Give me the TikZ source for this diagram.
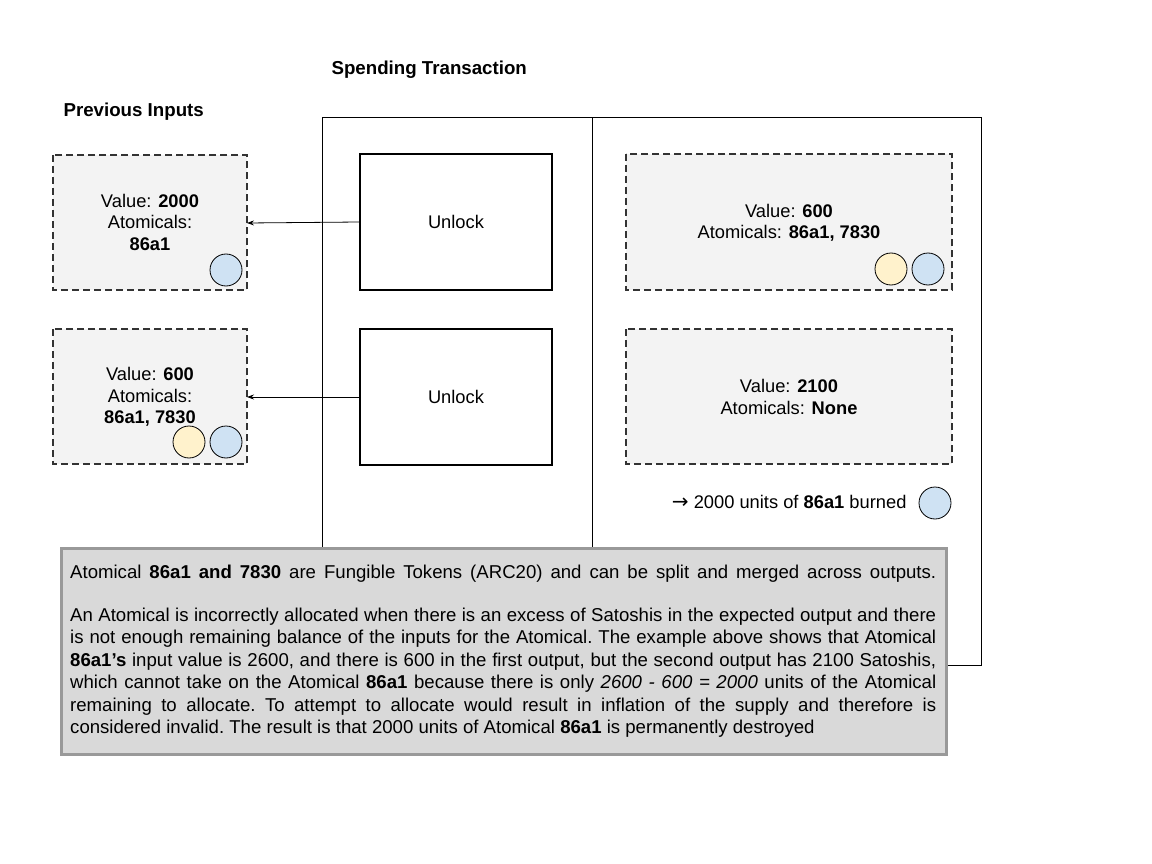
\documentclass[tikz,border=0pt]{standalone}
\usepackage{fontspec}
\setmainfont{Liberation Sans}
\newfontfamily\arrowfont{DejaVu Sans}
\usetikzlibrary{arrows.meta}
\definecolor{boxfill}{HTML}{F3F3F3}
\definecolor{notefill}{HTML}{D9D9D9}
\definecolor{noteline}{HTML}{999999}
\definecolor{tokyellow}{HTML}{FFF2CC}
\definecolor{tokblue}{HTML}{CFE2F3}
\tikzset{
  dbox/.style={draw=black!80, fill=boxfill, dash pattern=on 7pt off 4pt, line width=1.6pt},
  ubox/.style={draw=black, line width=1.3pt},
  tok/.style={circle, draw=black, line width=0.8pt, minimum size=32pt, inner sep=0pt},
  txt/.style={font=\fontsize{18.3}{21.5}\selectfont, align=center},
  ttltxt/.style={font=\fontsize{18.7}{22}\selectfont\bfseries, anchor=west},
  conn/.style={-{Stealth[length=7pt,width=5pt]}, line width=0.8pt},
}
\begin{document}
\begin{tikzpicture}[x=1pt,y=-1pt]
\useasboundingbox[fill=white] (0,0) rectangle (1152,864);
% transaction frame
\draw[line width=1pt] (322,118) rectangle (981,665);
\draw[line width=1pt] (592,118) -- (592,548);
% titles
\node[ttltxt] (ttl) at (328,70) {Spending Transaction};
\node[ttltxt] (prev) at (60,112) {Previous Inputs};
% previous inputs
\draw[dbox] (53,155) rectangle (247,290);
\coordinate (in1) at (247,223);
\node[txt] (in1t) at (150,222) {Value: \textbf{2000}\\Atomicals:\\\textbf{86a1}};
\node[tok, fill=tokblue] (c1) at (226,270) {};
\draw[dbox] (53,329) rectangle (247,464);
\coordinate (in2) at (247,397);
\node[txt] (in2t) at (150,397) {Value: \textbf{600}\\Atomicals:\\\textbf{86a1, 7830}};
\node[tok, fill=tokyellow] (c2) at (189,442) {};
\node[tok, fill=tokblue] (c3) at (226,442) {};
% unlock boxes
\node[ubox, minimum width=192pt, minimum height=136pt, txt] (u1) at (456,222) {Unlock};
\node[ubox, minimum width=192pt, minimum height=136pt, txt] (u2) at (456,397) {Unlock};
\draw[conn] (u1.west) -- (in1);
\draw[conn] (u2.west) -- (in2);
% outputs
\draw[dbox] (626,154) rectangle (952,290);
\node[txt] (o1t) at (789,223) {Value: \textbf{600}\\Atomicals: \textbf{86a1, 7830}};
\node[tok, fill=tokyellow] (c4) at (891,269) {};
\node[tok, fill=tokblue] (c5) at (928,269) {};
\draw[dbox] (626,329) rectangle (952,464);
\node[txt] (o2t) at (789,397) {Value: \textbf{2100}\\Atomicals: \textbf{None}};
\node[txt, anchor=east] (burn) at (910,502) {{\arrowfont\fontsize{20}{20}\selectfont →} 2000 units of \textbf{86a1} burned};
\node[tok, fill=tokblue] (c6) at (935,503) {};
% note box
\draw[fill=notefill, draw=noteline, line width=3pt] (61,548) rectangle (946,754);
\node[anchor=north west, inner sep=0pt, text width=866pt, align=justify,
      font=\fontsize{18.6}{22.4}\selectfont] (note) at (70,564.5) {\frenchspacing
{\parfillskip=0pt Atomical \textbf{86a1 and 7830} are Fungible Tokens (ARC20) and can be split and merged across outputs.\par}
\vspace{21pt}
An Atomical is incorrectly allocated when there is an excess of Satoshis in the expected output and there\linebreak
is not enough remaining balance of the inputs for the Atomical. The example above shows that Atomical\linebreak
\textbf{86a1’s} input value is 2600, and there is 600 in the first output, but the second output has 2100 Satoshis,\linebreak
which cannot take on the Atomical \textbf{86a1} because there is only \textit{2600 - 600 = 2000} units of the Atomical\linebreak
remaining to allocate. To attempt to allocate would result in inflation of the supply and therefore is\linebreak
considered invalid. The result is that 2000 units of Atomical \textbf{86a1} is permanently destroyed\par};
\end{tikzpicture}
\end{document}
